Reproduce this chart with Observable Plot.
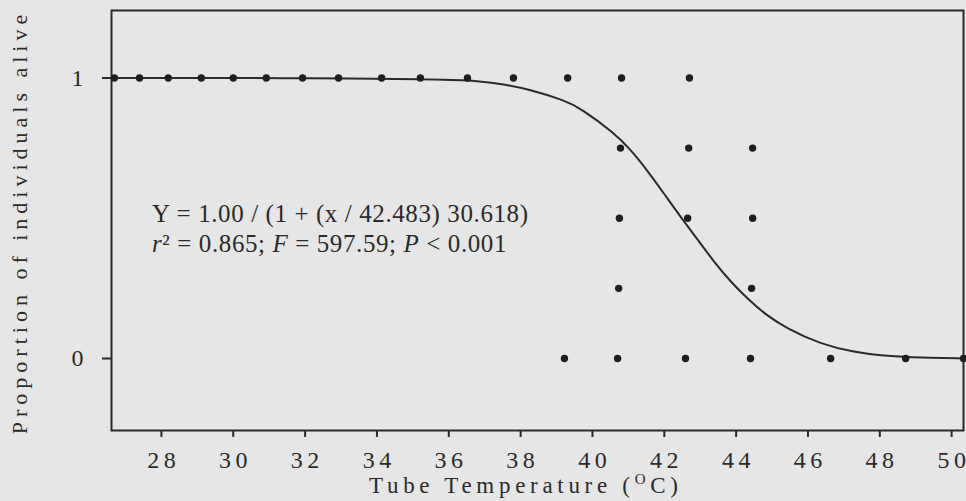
<!DOCTYPE html>
<html>
<head>
<meta charset="utf-8">
<script src="https://cdn.jsdelivr.net/npm/d3@7"></script>
<script src="https://cdn.jsdelivr.net/npm/@observablehq/plot@0.6"></script>
<style>
  html, body { margin: 0; padding: 0; background: #e6e6e6; }
  #chart svg { display: block; }
</style>
</head>
<body>
<div id="chart"></div>
<script>
// Observed proportions alive at each tube temperature (°C), grouped by level
const tempsAt100 = [26.69, 27.39, 28.19, 29.11, 30.00, 30.92, 31.93, 32.93, 34.13, 35.21, 36.52, 37.80, 39.31, 40.81, 42.70];
const tempsAt075 = [40.78, 42.68, 44.46];
const tempsAt050 = [40.75, 42.65, 44.46];
const tempsAt025 = [40.73, 44.43];
const tempsAt000 = [39.22, 40.70, 42.59, 44.40, 46.63, 48.72, 50.33];
const levels = [1, 0.75, 0.5, 0.25, 0];

// Fitted curve
const curveT = [26.61, 30.0, 32.0, 34.66, 36.52, 37.44, 38.28, 39.25, 39.67, 40.59, 41.06, 41.53, 41.98, 42.45, 42.93, 43.37, 43.85, 44.32, 44.76, 45.43, 46.35, 47.27, 48.22, 49.14, 50.33];
const curveY = [1.0, 1.0, 0.999, 0.997, 0.994, 0.98, 0.958, 0.919, 0.892, 0.806, 0.745, 0.670, 0.590, 0.505, 0.424, 0.347, 0.273, 0.213, 0.162, 0.105, 0.052, 0.022, 0.008, 0.003, 0.0];

const xTicks = [28, 30, 32, 34, 36, 38, 40, 42, 44, 46, 48, 50];
const yTicks = [0, 1];
const xTitle = ["Tube Temperature (", "O", "C)"];
const yTitle = "Proportion of individuals alive";
const eqLine1 = "Y = 1.00 / (1 + (x / 42.483) 30.618)";
const eqLine2 = [["r", true], ["² = 0.865; ", false], ["F", true], [" = 597.59; ", false], ["P", true], [" < 0.001", false]];

const tempGroups = [tempsAt100, tempsAt075, tempsAt050, tempsAt025, tempsAt000];
const points = tempGroups.flatMap((ts, i) => ts.map(t => ({t, p: levels[i]})));
const curve = curveT.map((t, i) => ({t, p: curveY[i]}));

const ink = "#2a2a2a";
const serif = "'Liberation Serif', 'DejaVu Serif', serif";

const chart = Plot.plot({
  width: 966,
  height: 501,
  marginLeft: 111,
  marginRight: 3,
  marginTop: 10,
  marginBottom: 71,
  style: {background: "transparent", fontFamily: serif, fontSize: "24px", color: ink},
  x: {domain: [26.61, 50.33], ticks: xTicks, tickSize: 7, tickPadding: 13, label: null, tickFormat: d => String(d)},
  y: {domain: [-0.2567, 1.2406], ticks: yTicks, tickSize: 9, tickPadding: 19, label: null, tickFormat: d => String(d)},
  marks: [
    Plot.frame({stroke: ink, strokeWidth: 2}),
    Plot.line(curve, {x: "t", y: "p", stroke: ink, strokeWidth: 2, curve: "basis"}),
    Plot.dot(points, {x: "t", y: "p", r: 3.7, fill: "#1e1e1e", stroke: "none"})
  ]
});

document.getElementById("chart").appendChild(chart);
const svg = d3.select(chart);

// axis styling
svg.selectAll('g[aria-label="x-axis tick"] path, g[aria-label="y-axis tick"] path').attr("stroke-width", 2);
svg.selectAll('g[aria-label="x-axis tick label"] text, g[aria-label="x-axis"] text').each(function () {
  const el = d3.select(this);
  const s = el.text();
  if (s.length < 2) return;
  el.text(null);
  el.append("tspan").style("letter-spacing", "4.5px").text(s.slice(0, -1));
  el.append("tspan").style("letter-spacing", "0px").text(s.slice(-1));
});

// x-axis title
const xt = svg.append("text")
  .attr("x", 369).attr("y", 493)
  .attr("text-anchor", "start")
  .attr("font-family", serif).attr("font-size", 23).attr("fill", ink)
  .style("letter-spacing", "4.7px");
xt.append("tspan").text(xTitle[0]);
xt.append("tspan").attr("font-size", 15).attr("dy", -9).text(xTitle[1]);
xt.append("tspan").attr("dy", 9).text(xTitle[2]);

// y-axis title
svg.append("text")
  .attr("transform", "translate(27,222) rotate(-90)")
  .attr("text-anchor", "middle")
  .attr("font-family", serif).attr("font-size", 22).attr("fill", ink)
  .style("letter-spacing", "5px")
  .text(yTitle);

// equation annotation
svg.append("text")
  .attr("x", 152).attr("y", 222)
  .attr("text-anchor", "start")
  .attr("font-family", serif).attr("font-size", 25).attr("fill", ink)
  .style("letter-spacing", "0.6px")
  .text(eqLine1);
const l2 = svg.append("text")
  .attr("x", 152).attr("y", 252)
  .attr("text-anchor", "start")
  .attr("font-family", serif).attr("font-size", 25).attr("fill", ink)
  .style("letter-spacing", "0.6px");
eqLine2.forEach(([s, it]) => {
  l2.append("tspan").attr("font-style", it ? "italic" : "normal").text(s);
});
</script>
</body>
</html>
